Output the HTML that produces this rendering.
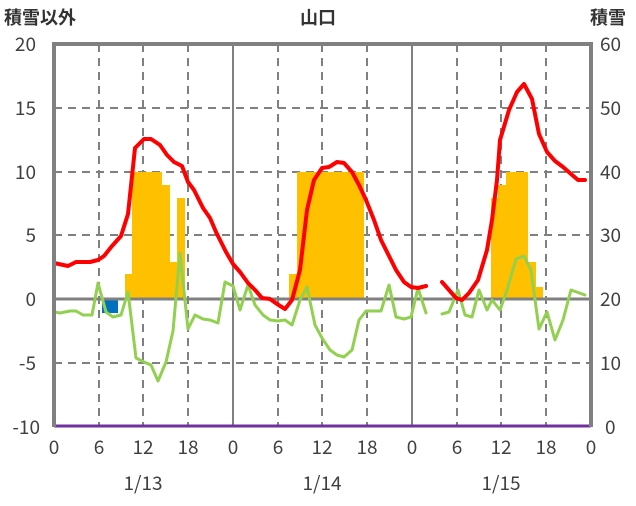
<!DOCTYPE html>
<html><head><meta charset="utf-8"><style>
body{margin:0;background:#fff;}
svg text{font-family:"Noto Sans CJK JP","Liberation Sans",sans-serif;fill:#404040;font-size:19px;}
svg text.t{font-weight:bold;fill:#333;font-family:"Liberation Sans","Noto Sans CJK JP",sans-serif;font-size:18px;}
</style></head><body>
<svg width="636" height="501" viewBox="0 0 636 501" xmlns="http://www.w3.org/2000/svg">
<g stroke="#808080" stroke-width="2" stroke-dasharray="8,6">
<line x1="54" y1="108" x2="591" y2="108"/>
<line x1="54" y1="172" x2="591" y2="172"/>
<line x1="54" y1="235" x2="591" y2="235"/>
<line x1="54" y1="363" x2="591" y2="363"/>
<line x1="99" y1="44" x2="99" y2="427"/>
<line x1="143" y1="44" x2="143" y2="427"/>
<line x1="188" y1="44" x2="188" y2="427"/>
<line x1="278" y1="44" x2="278" y2="427"/>
<line x1="322" y1="44" x2="322" y2="427"/>
<line x1="367" y1="44" x2="367" y2="427"/>
<line x1="457" y1="44" x2="457" y2="427"/>
<line x1="501" y1="44" x2="501" y2="427"/>
<line x1="546" y1="44" x2="546" y2="427"/>
</g>
<g stroke="#808080" stroke-width="2">
<line x1="233" y1="44" x2="233" y2="427"/>
<line x1="412" y1="44" x2="412" y2="427"/>
</g>
<g fill="#FFC000">
<rect x="125" y="274" width="8" height="25"/>
<rect x="132" y="172" width="30" height="127"/>
<rect x="162" y="185" width="8" height="114"/>
<rect x="170" y="262" width="7" height="37"/>
<rect x="177" y="198" width="8" height="101"/>
<rect x="289" y="274" width="8" height="25"/>
<rect x="297" y="172" width="67" height="127"/>
<rect x="491" y="198" width="7" height="101"/>
<rect x="498" y="185" width="8" height="114"/>
<rect x="506" y="172" width="22" height="127"/>
<rect x="528" y="262" width="8" height="37"/>
<rect x="536" y="287" width="7" height="12"/>
</g>
<rect x="102" y="299" width="16" height="14" fill="#0070C0"/>
<line x1="54" y1="299" x2="591" y2="299" stroke="#808080" stroke-width="3"/>
<g fill="none" stroke-linejoin="round" stroke-linecap="round">
<polyline stroke="#92D050" stroke-width="3" points="54,312 60,313 70,311 76,311 83,315 92,315 98,283 106,312 113,317 121,315 128,292 136,358 144,362 151,365 158,381 166,362 173,331 180,253 188,329 195,315 203,319 210,320 218,323 225,282 233,286 240,310 248,285 255,305 263,315 270,320 278,321 285,320 292,325 300,300 307,287 315,325 322,338 330,350 337,355 344,357 352,350 359,320 366,311 374,311 381,311 389,285 396,317 404,319 411,317 418,288 426,313"/>
<polyline stroke="#92D050" stroke-width="3" points="442,314 449,312 458,290 465,315 472,317 479,290 487,310 492,300 500,310 507,290 516,259 524,256 531,270 539,329 547,312 555,340 563,320 571,290 585,295"/>
<polyline stroke="#FF0000" stroke-width="4" points="54,263 68,266 76,262 90,262 98,260 104,256 112,246 121,236 128,214 135,148 144,139 151,139 160,145 167,155 174,162 182,166 188,182 194,190 203,208 210,218 216,232 226,252 233,264 240,272 248,283 255,290 262,298 270,299 277,304 285,309 292,300 300,270 307,210 314,180 322,168 329,167 337,162 344,163 352,172 359,185 366,200 374,220 381,240 389,256 396,270 404,282 411,287 418,288 426,286"/>
<polyline stroke="#FF0000" stroke-width="4" points="442,282 456,298 462,300 469,293 478,280 487,250 492,220 497,180 500,140 509,110 517,92 524,84 532,99 539,134 547,152 555,161 563,167 571,174 578,180 585,180"/>
</g>
<line x1="54" y1="426" x2="591" y2="426" stroke="#7030A0" stroke-width="3"/>
<polyline points="54,427 54,44 591,44 591,427" fill="none" stroke="#808080" stroke-width="4"/>
<g text-anchor="end">
<text x="36" y="51">20</text><text x="36" y="115">15</text><text x="36" y="179">10</text>
<text x="36" y="242">5</text><text x="36" y="306">0</text><text x="36" y="370">-5</text><text x="40" y="434">-10</text>
</g>
<g text-anchor="start">
<text x="600" y="51">60</text><text x="600" y="115">50</text><text x="600" y="179">40</text>
<text x="600" y="242">30</text><text x="600" y="306">20</text><text x="600" y="370">10</text><text x="605" y="434">0</text>
</g>
<g text-anchor="middle">
<text x="54" y="454">0</text><text x="99" y="454">6</text><text x="143" y="454">12</text><text x="188" y="454">18</text>
<text x="233" y="454">0</text><text x="278" y="454">6</text><text x="322" y="454">12</text><text x="367" y="454">18</text>
<text x="412" y="454">0</text><text x="457" y="454">6</text><text x="501" y="454">12</text><text x="546" y="454">18</text><text x="591" y="454">0</text>
<text x="143" y="490">1/13</text><text x="322" y="490">1/14</text><text x="501" y="490">1/15</text>
<text class="t" x="318" y="24">山口</text>
</g>
<text class="t" x="4" y="24">積雪以外</text>
<text class="t" x="590" y="24">積雪</text>
</svg>
</body></html>
